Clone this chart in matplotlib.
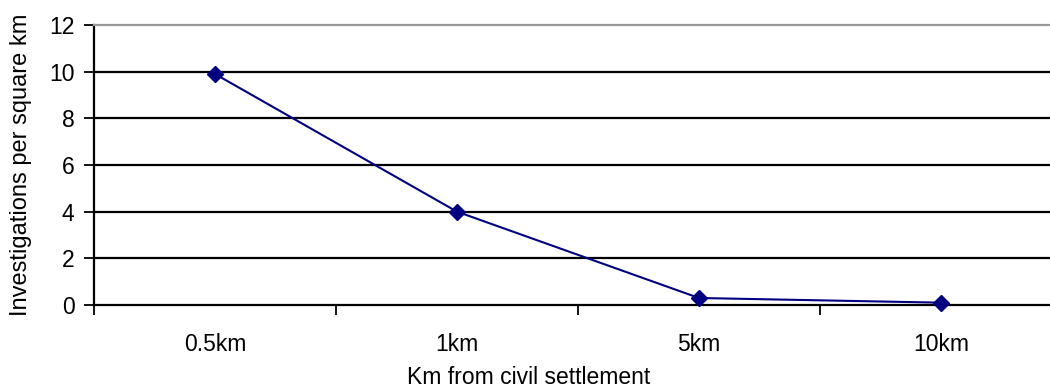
import numpy as np
import matplotlib.pyplot as plt

categories = ['0.5km', '1km', '5km', '10km']
values = [9.9, 4.0, 0.3, 0.1]
yticks = [0, 2, 4, 6, 8, 10, 12]

plt.rcParams['font.family'] = ['Liberation Sans', 'DejaVu Sans']

fig = plt.figure(figsize=(10.5, 3.89), dpi=100)
W, H = 1050, 389
left, right, top, bottom = 94, 1062, 25, 305
ax = fig.add_axes([left / W, 1 - bottom / H, (right - left) / W, (bottom - top) / H])

x = np.arange(len(categories))
ax.plot(x, values, color='#000080', lw=1.5, marker='D', markersize=8, zorder=3, clip_on=False)

ax.set_xlim(-0.5, len(categories) - 0.5)
ax.set_ylim(0, 12)
ax.set_yticks(yticks)
ax.set_xticks(np.arange(len(categories) + 1) - 0.5)
ax.set_xticklabels([])
ax.set_xticks(x, minor=True)
ax.set_xticklabels(categories, minor=True)
ax.tick_params(axis='x', which='minor', length=0, pad=20, labelsize=16.5)
ax.tick_params(axis='x', which='major', length=7, width=1.3, direction='out')
ax.tick_params(axis='y', length=7, width=1.3, direction='out', labelsize=16.5, pad=7)

for yv in yticks[1:-1]:
    ax.axhline(yv, color='black', lw=1.6, zorder=1)
ax.spines['top'].set_color('#999999')
ax.spines['top'].set_linewidth(1.6)
ax.spines['right'].set_visible(False)
ax.spines['left'].set_linewidth(1.6)
ax.spines['bottom'].set_linewidth(1.6)

ax.set_xlabel('Km from civil settlement', fontsize=16.5)
ax.set_ylabel('Investigations per square km', fontsize=17)
# label positions in pixels of the figure
ax.xaxis.set_label_coords((529 - left) / (right - left), -(377 - bottom) / (bottom - top))
ax.yaxis.set_label_coords(-(left - 21) / (right - left), 0.5)
ax.xaxis.label.set_va('center')
ax.yaxis.label.set_va('center')

fig.savefig('out.png', dpi=100)
